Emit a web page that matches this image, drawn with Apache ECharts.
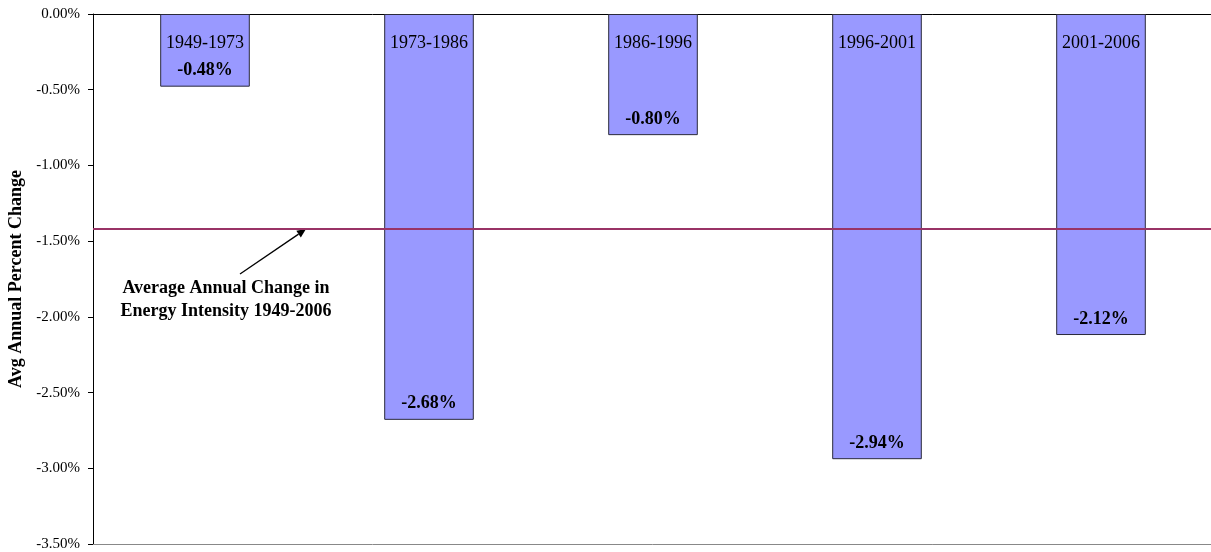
<!DOCTYPE html>
<html><head><meta charset="utf-8">
<script src="https://cdn.jsdelivr.net/npm/echarts@6/dist/echarts.min.js"></script>
<style>html,body{margin:0;padding:0;background:#fff}#c{width:1211px;height:552px}</style>
</head><body><div id="c"></div>
<script>
const periods = ['1949-1973','1973-1986','1986-1996','1996-2001','2001-2006'];
const changes = [-0.48,-2.68,-0.80,-2.94,-2.12];
const avgChange = -1.42;
const yTicks = {min:-3.5,max:0,interval:0.5};
const annotation = ['Average Annual Change in','Energy Intensity 1949-2006'];

const font = 'Liberation Serif';
const chart = echarts.init(document.getElementById('c'));
const option = {
  animation:false,
  textStyle:{fontFamily:font},
  grid:{left:93,top:14,width:1120,bottom:8,containLabel:false,outerBoundsMode:'none'},
  xAxis:[{type:'category',data:periods,position:'top',
    axisLine:{onZero:false,lineStyle:{color:'#000',width:1}},axisTick:{show:false},axisLabel:{show:false},splitLine:{show:false}},
    {type:'category',data:periods,position:'bottom',
    axisLine:{show:true,onZero:false,lineStyle:{color:'#888',width:1}},axisTick:{show:false},axisLabel:{show:false}}],
  yAxis:{type:'value',min:yTicks.min,max:yTicks.max,interval:yTicks.interval,
    name:'Avg Annual Percent Change',nameLocation:'middle',nameGap:66,nameRotate:90,
    nameTextStyle:{fontFamily:font,fontWeight:'bold',fontSize:18,color:'#000'},
    axisLine:{show:true,lineStyle:{color:'#000',width:1}},
    axisTick:{show:true,length:5,lineStyle:{color:'#000'}},
    axisLabel:{fontFamily:font,fontSize:15,color:'#000',margin:13,formatter:v=>v.toFixed(2)+'%'},
    splitLine:{show:false}},
  series:[
    {type:'bar',data:changes,barWidth:'40%',
      itemStyle:{color:'#9999FF',borderColor:'#2a2a3a',borderWidth:1},
      label:{show:true,position:'insideBottom',distance:7,fontFamily:font,fontWeight:'bold',fontSize:18,color:'#000',
        formatter:p=>p.value.toFixed(2)+'%'},
      markLine:{silent:true,symbol:['none','none'],label:{show:false},
        lineStyle:{color:'#993366',width:2,type:'solid'},data:[{yAxis:avgChange}]}},
    {type:'scatter',data:periods.map(()=>0),symbolSize:0,itemStyle:{opacity:1},
      label:{show:true,position:'bottom',distance:20,fontFamily:font,fontSize:18,color:'#000',opacity:1,
        formatter:p=>periods[p.dataIndex]}}
  ]
};
chart.setOption(option);
const pAvg = chart.convertToPixel({xAxisIndex:0,yAxisIndex:0},[0,avgChange]);
const tip=[306,pAvg[1]], tail=[240,274];
const ang=Math.atan2(tip[1]-tail[1],tip[0]-tail[0]);
const hl=9, hw=4;
const bx=tip[0]-hl*Math.cos(ang), by=tip[1]-hl*Math.sin(ang);
chart.setOption({graphic:[
  {type:'line',shape:{x1:tail[0],y1:tail[1],x2:bx,y2:by},style:{stroke:'#000',lineWidth:1.3}},
  {type:'polygon',shape:{points:[tip,[bx+hw*Math.sin(ang),by-hw*Math.cos(ang)],[bx-hw*Math.sin(ang),by+hw*Math.cos(ang)]]},style:{fill:'#000'}},
  {type:'text',x:226,y:277,style:{text:annotation.join('\n'),align:'center',font:'bold 18px "Liberation Serif"',lineHeight:23,fill:'#000'}}
]});
</script></body></html>
